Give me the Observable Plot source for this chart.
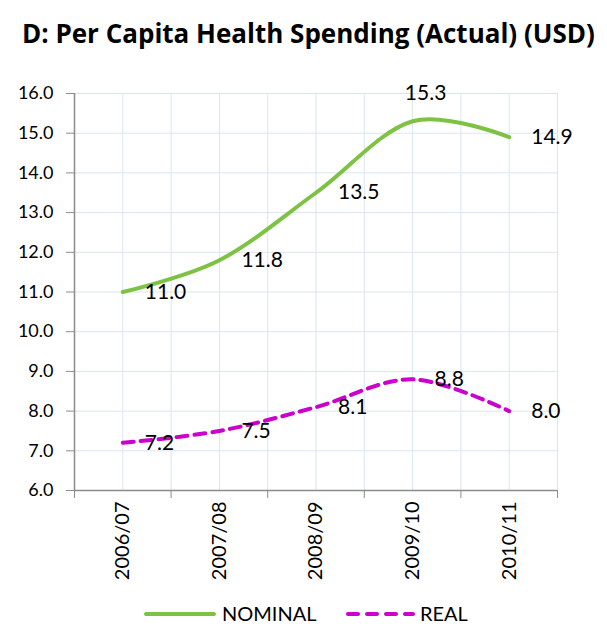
<!DOCTYPE html>
<html><head><meta charset="utf-8">
<script src="https://cdn.jsdelivr.net/npm/d3@7"></script>
<script src="https://cdn.jsdelivr.net/npm/@observablehq/plot@0.6"></script>
<style>
body{margin:0;background:#fff;font-family:Lato,"Open Sans",sans-serif;overflow:hidden;}
#title{position:absolute;left:22px;top:15px;font-family:"Open Sans",sans-serif;font-size:26px;font-weight:bold;color:#000;white-space:nowrap;}
#chart{position:absolute;left:0;top:60px;}
#legend{position:absolute;left:0;top:596px;width:607px;height:30px;}
</style></head>
<body>
<div id="title">D: Per Capita Health Spending (Actual) (USD)</div>
<div id="chart"></div>
<div id="legend"></div>
<script>
const years = ["2006/07","2007/08","2008/09","2009/10","2010/11"];
const nominal = [11.0, 11.8, 13.5, 15.3, 14.9];
const real = [7.2, 7.5, 8.1, 8.8, 8.0];
const yTicks = [6,7,8,9,10,11,12,13,14,15,16];

const rows = [];
years.forEach((y,i)=>{
  rows.push({i, year:y, series:"NOMINAL", value:nominal[i]});
  rows.push({i, year:y, series:"REAL", value:real[i]});
});
const green = "#7dc242", magenta = "#cc00cc", grid = "#dbe5f3", axis = "#8c8c8c";
const isPeak = d => d.series==="NOMINAL" && d.value===d3.max(nominal);

const plot = Plot.plot({
  width: 607, height: 535,
  marginLeft: 74, marginRight: 50, marginTop: 33, marginBottom: 105,
  style: {fontFamily: "Lato, 'Open Sans', sans-serif", background: "#fff", overflow: "visible"},
  x: {type: "linear", domain: [-0.5, 4.5]},
  y: {domain: [6, 16]},
  marks: [
    Plot.gridX(d3.range(-0.5, 4.51, 0.5), {stroke: grid, strokeOpacity: 1}),
    Plot.gridY(yTicks, {stroke: grid, strokeOpacity: 1}),
    Plot.ruleY([6], {stroke: axis, strokeWidth: 1.5}),
    Plot.ruleX([-0.5], {stroke: axis, strokeWidth: 1.5}),
    Plot.axisY(yTicks, {tickSize: 8, tickPadding: 13, stroke: axis, fontSize: 18, fill: "#000", tickFormat: d => d.toFixed(1), label: null}),
    Plot.axisX(d3.range(-0.5, 4.51, 1), {tickSize: 8, stroke: axis, tickFormat: () => "", label: null}),
    Plot.axisX(d3.range(0, 5), {tickSize: 0, tickPadding: 11, tickRotate: -90, fontSize: 20, fill: "#000", tickFormat: i => years[i], label: null}),
    Plot.line(rows.filter(d=>d.series==="NOMINAL"), {x: "i", y: "value", stroke: green, strokeWidth: 4, curve: "cardinal"}),
    Plot.line(rows.filter(d=>d.series==="REAL"), {x: "i", y: "value", stroke: magenta, strokeWidth: 4, strokeDasharray: "11,7", curve: "cardinal"}),
    Plot.text(rows.filter(d=>!isPeak(d)), {x: "i", y: "value", text: d => d.value.toFixed(1), textAnchor: "start", dx: 22, fontSize: 21, fill: "#000"}),
    Plot.text(rows.filter(isPeak), {x: "i", y: "value", text: d => d.value.toFixed(1), dx: 13, dy: -28, fontSize: 21, fill: "#000"})
  ]
});
document.getElementById("chart").appendChild(plot);

// legend
const lg = d3.select("#legend").append("svg").attr("width",607).attr("height",30);
lg.append("line").attr("x1",146).attr("x2",214).attr("y1",18).attr("y2",18).attr("stroke",green).attr("stroke-width",4).attr("stroke-linecap","round");
lg.append("text").attr("x",222).attr("y",25).text("NOMINAL").attr("font-size",20).attr("font-family","Lato, sans-serif");
lg.append("line").attr("x1",348).attr("x2",413).attr("y1",18).attr("y2",18).attr("stroke",magenta).attr("stroke-width",4).attr("stroke-dasharray","10,9").attr("stroke-linecap","round");
lg.append("text").attr("x",420).attr("y",25).text("REAL").attr("font-size",20).attr("font-family","Lato, sans-serif");
</script>
</body></html>
